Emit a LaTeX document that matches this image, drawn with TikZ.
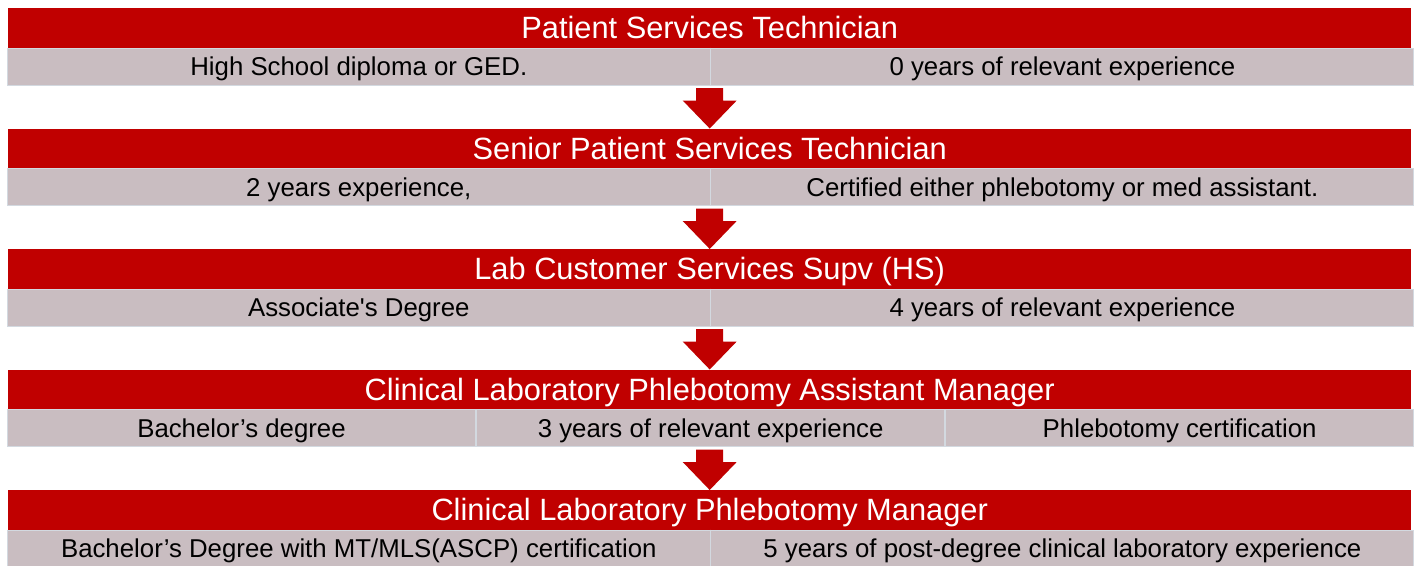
\documentclass[tikz,border=0pt]{standalone}
\usepackage{fontspec}
\setmainfont{Liberation Sans}[Ligatures=TeXOff]
\usetikzlibrary{calc}
\definecolor{hdr}{HTML}{C00000}
\definecolor{cellg}{HTML}{C9BDC1}
\definecolor{cellb}{HTML}{D3D9E0}
\tikzset{
  hdrbar/.style={fill=hdr, draw=none, inner sep=0pt, minimum width=1403pt, minimum height=39.5pt,
    anchor=north west, text=white, font=\fontsize{30.8}{30.8}\selectfont, text height=22pt, text depth=0pt},
  graybar/.style={fill=cellg, draw=cellb, line width=1.2pt, inner sep=0pt, minimum width=1406pt,
    minimum height=37pt, anchor=north west},
  celltxt/.style={inner sep=0pt, text=black, font=\fontsize{25.8}{25.8}\selectfont, text height=18.5pt, text depth=0pt},
  divider/.style={draw=cellb, line width=1.6pt},
  downarrow/.style={fill=hdr, draw=none}
}
\begin{document}
\begin{tikzpicture}[x=1pt,y=-1pt]
\useasboundingbox (0,0) rectangle (1416,565);
% rows
\foreach \i/\t in {1/{Patient Services Technician},2/{Senior Patient Services Technician},3/{Lab Customer Services Supv (HS)},4/{Clinical Laboratory Phlebotomy Assistant Manager},5/{Clinical Laboratory Phlebotomy Manager}}{
  \pgfmathsetmacro{\ytop}{8+120.5*(\i-1)}
  \node[graybar] (g\i) at (7,\ytop+39.5) {};
  \node[hdrbar] (r\i) at (8,\ytop) {\t};
}
% two-column rows
\foreach \i/\a/\b in {1/{High School diploma or GED.}/{0 years of relevant experience},2/{2 years experience,}/{Certified either phlebotomy or med assistant.},3/{Associate's Degree}/{4 years of relevant experience},5/{Bachelor’s Degree with MT/MLS(ASCP) certification}/{5 years of post-degree clinical laboratory experience}}{
  \draw[divider] (g\i.north) -- (g\i.south);
  \node[celltxt] (a\i) at ($(g\i.west)!0.25!(g\i.east)$) {\a};
  \node[celltxt] (b\i) at ($(g\i.west)!0.75!(g\i.east)$) {\b};
}
% three-column row
\draw[divider] ($(g4.north west)!1/3!(g4.north east)$) -- ($(g4.south west)!1/3!(g4.south east)$);
\draw[divider] ($(g4.north west)!2/3!(g4.north east)$) -- ($(g4.south west)!2/3!(g4.south east)$);
\node[celltxt] (a4) at ($(g4.west)!1/6!(g4.east)$) {Bachelor’s degree};
\node[celltxt] (b4) at ($(g4.west)!0.5!(g4.east)$) {3 years of relevant experience};
\node[celltxt] (c4) at ($(g4.west)!5/6!(g4.east)$) {Phlebotomy certification};
% arrows
\foreach \i/\j in {1/2,2/3,3/4,4/5}{
  \fill[downarrow] let \p1=(g\i.south), \p2=(r\j.north) in
    (\x2-13.5pt,\y1-2.5pt) -- (\x2+13.5pt,\y1-2.5pt) -- (\x2+13.5pt,\y2+28pt) -- (\x2+27pt,\y2+28pt)
    -- (\x2,\y2) -- (\x2-27pt,\y2+28pt) -- (\x2-13.5pt,\y2+28pt) -- cycle;
}
\end{tikzpicture}
\end{document}
